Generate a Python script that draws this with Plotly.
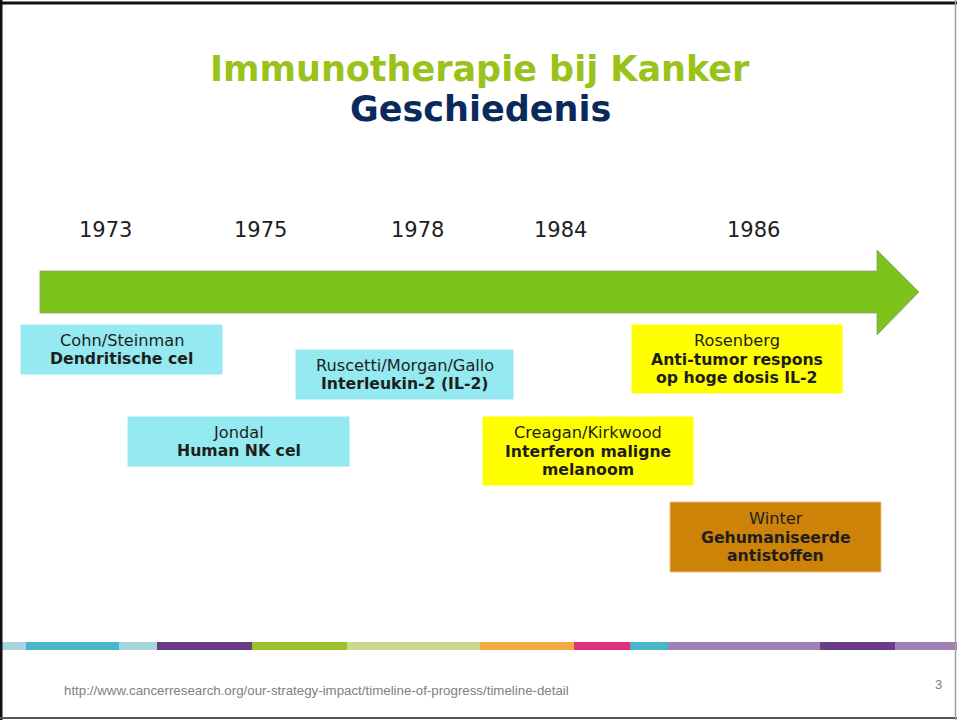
import plotly.graph_objects as go

# ---- data ----
title_main = "Immunotherapie bij Kanker"
title_sub = "Geschiedenis"
years = ["1973", "1975", "1978", "1984", "1986"]
authors = ["Cohn/Steinman", "Jondal", "Ruscetti/Morgan/Gallo", "Creagan/Kirkwood", "Rosenberg", "Winter"]
topics = [
    ["Dendritische cel"],
    ["Human NK cel"],
    ["Interleukin-2 (IL-2)"],
    ["Interferon maligne", "melanoom"],
    ["Anti-tumor respons", "op hoge dosis IL-2"],
    ["Gehumaniseerde", "antistoffen"],
]
source_url = "http://www.cancerresearch.org/our-strategy-impact/timeline-of-progress/timeline-detail"
page_no = "3"

# ---- layout (pixel positions) ----
W, H = 957, 720
year_x = [105, 260, 417, 560, 753]
year_y = 230
boxes = [  # x0, x1, y0, y1
    (21, 222, 325, 374),
    (128, 349, 417, 466),
    (296, 513, 350, 399),
    (483, 693, 417, 485),
    (632, 842, 325, 393),
    (670, 881, 502, 572),
]
CYAN, YELLOW, AMBER = "#94eaf0", "#ffff00", "#cd8308"
box_colors = [CYAN, CYAN, CYAN, YELLOW, YELLOW, AMBER]
strip = [
    (0, 26, "#a6d6de"), (26, 119, "#47b6c6"), (119, 157, "#a6d6de"),
    (157, 252, "#6b3d87"), (252, 347, "#9bc22d"), (347, 480, "#c9da8c"),
    (480, 574, "#f3aa45"), (574, 630, "#e0327c"), (630, 668, "#47b6c6"),
    (668, 820, "#a181b1"), (820, 895, "#6b3d88"), (895, 957, "#a181b1"),
]

FONT = "Verdana, DejaVu Sans, sans-serif"
TXT = "#1e1e1e"

fig = go.Figure()
shapes = []
ann = []

# slide border
shapes.append(dict(type="line", x0=0, x1=W, y0=3, y1=3, line=dict(color="#111111", width=3)))
shapes.append(dict(type="line", x0=1, x1=1, y0=0, y1=H, line=dict(color="#111111", width=3)))
shapes.append(dict(type="line", x0=0, x1=W, y0=718, y1=718, line=dict(color="#555555", width=2)))
shapes.append(dict(type="line", x0=955.5, x1=955.5, y0=0, y1=H, line=dict(color="#a0a0a0", width=1.5)))

# arrow
arrow_path = "M 40 271 L 877 271 L 877 250 L 919 292 L 877 335 L 877 313 L 40 313 Z"
shapes.append(dict(type="path", path=arrow_path, fillcolor="#7cc41b",
                   line=dict(color="#8a9a80", width=0.8), layer="below"))

# boxes
for (x0, x1, y0, y1), c in zip(boxes, box_colors):
    lc = "#efc080" if c == AMBER else c
    shapes.append(dict(type="rect", x0=x0, x1=x1, y0=y0, y1=y1, fillcolor=c,
                       line=dict(color=lc, width=1), layer="below"))

# colour strip
for x0, x1, c in strip:
    shapes.append(dict(type="rect", x0=x0, x1=x1, y0=642, y1=650, fillcolor=c,
                       line=dict(width=0), layer="below"))

# titles
ann.append(dict(x=480, y=69, text="<b>%s</b>" % title_main, font=dict(family=FONT, size=35, color="#99c21b")))
ann.append(dict(x=480, y=109, text="<b>%s</b>" % title_sub, font=dict(family=FONT, size=35, color="#0b2a5c")))

# years
for yr, x in zip(years, year_x):
    ann.append(dict(x=x, y=year_y, text=yr, font=dict(family=FONT, size=21, color=TXT)))

# box texts
LS = 18.5
for (x0, x1, y0, y1), a, tlines in zip(boxes, authors, topics):
    lines = [(a, False)] + [(t, True) for t in tlines]
    n = len(lines)
    cy = (y0 + y1) / 2
    cx = (x0 + x1) / 2
    for i, (t, b) in enumerate(lines):
        yy = cy + (i - (n - 1) / 2) * LS
        ann.append(dict(x=cx, y=yy, text=("<b>%s</b>" % t) if b else t,
                        font=dict(family=FONT, size=15.7 if b else 16.2, color=TXT)))

# footer
ann.append(dict(x=62, y=690, text=source_url, xanchor="left",
                font=dict(family="Liberation Sans, Arial", size=13.3, color="#808080")))
ann.append(dict(x=938, y=684, text=page_no,
                font=dict(family="Liberation Sans, Arial", size=13, color="#808080")))

for a in ann:
    a.setdefault("xanchor", "center")
    a.update(yanchor="middle", showarrow=False, xref="x", yref="y")

for s in shapes:
    s.update(xref="x", yref="y")

fig.update_layout(
    width=W, height=H, margin=dict(l=0, r=0, t=0, b=0),
    paper_bgcolor="white", plot_bgcolor="white",
    xaxis=dict(range=[0, W], visible=False, fixedrange=True),
    yaxis=dict(range=[H, 0], visible=False, fixedrange=True),
    shapes=shapes, annotations=ann, showlegend=False,
)
fig.write_html("out.html", config={"staticPlot": True},
               post_script="document.body.style.margin='0px';document.body.style.overflow='hidden';")
